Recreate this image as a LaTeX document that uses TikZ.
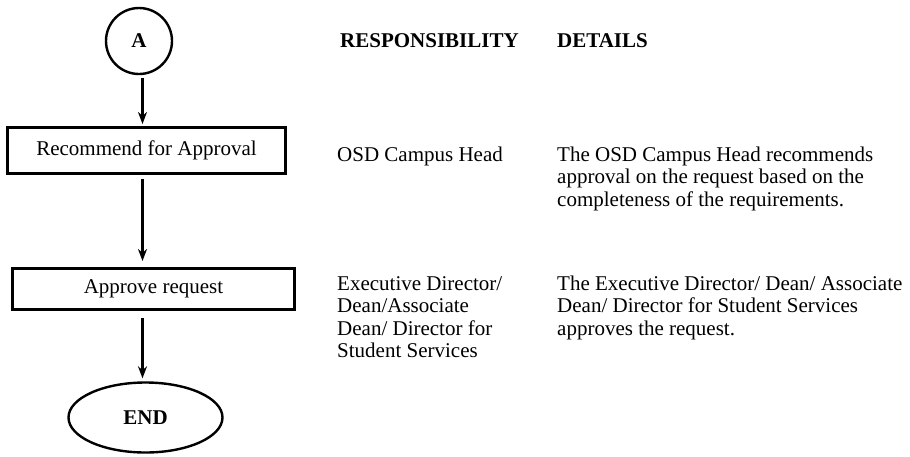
\documentclass[tikz,border=0pt]{standalone}
\usepackage{fontspec}
\setmainfont{Liberation Serif}
\usetikzlibrary{shapes.geometric,arrows.meta}
\newcommand{\mylines}[1]{\begin{tabular}[t]{@{}l@{}}#1\end{tabular}}
\begin{document}
\begin{tikzpicture}[x=1pt,y=-1pt,
  every node/.style={font=\fontsize{21}{22.5}\selectfont, inner sep=0pt},
  stepbox/.style={draw, line width=3pt, rectangle},
  startcirc/.style={draw, line width=2.4pt, circle, minimum size=66pt, font=\fontsize{21}{22.5}\selectfont\bfseries},
  endell/.style={draw, line width=2.4pt, ellipse, minimum width=154pt, minimum height=70pt, font=\fontsize{21}{22.5}\selectfont\bfseries},
  arr/.style={line width=2.2pt, -{Stealth[length=12pt,width=9pt]}},
  head/.style={anchor=base west, font=\fontsize{21}{22.5}\selectfont\bfseries},
  txt/.style={anchor=base west}
]
\useasboundingbox (0,0) rectangle (910,456);
% flow
\node[startcirc] (A) at (139,41) {A};
\node[stepbox, minimum width=278pt, minimum height=46pt] (rec) at (146.5,150.5) {Recommend for Approval};
\node[stepbox, minimum width=282pt, minimum height=41pt] (app) at (153.5,289) {Approve request};
\node[endell] (end) at (145.5,417.5) {END};
\coordinate (ax) at (142.5,0);
\draw[arr, shorten <=3pt, shorten >=2pt] (A.south -| ax) -- (rec.north -| ax);
\draw[arr, shorten <=4pt, shorten >=6pt] (rec.south -| ax) -- (app.north -| ax);
\draw[arr, shorten <=7pt, shorten >=3pt] (app.south -| ax) -- (end.north -| ax);
% headers
\node[head] (hresp) at (340,47) {RESPONSIBILITY};
\node[head] (hdet) at (557,47) {DETAILS};
% row 1
\node[txt] (r1) at (337,161) {\mylines{OSD Campus Head}};
\node[txt] (d1) at (557,161) {\mylines{The OSD Campus Head recommends\\approval on the request based on the\\completeness of the requirements.}};
% row 2
\node[txt] (r2) at (337,290) {\mylines{Executive Director/\\Dean/Associate\\Dean/ Director for\\Student Services}};
\node[txt] (d2) at (557,290) {\mylines{The Executive Director/ Dean/ Associate\\Dean/ Director for Student Services\\approves the request.}};
\end{tikzpicture}
\end{document}
